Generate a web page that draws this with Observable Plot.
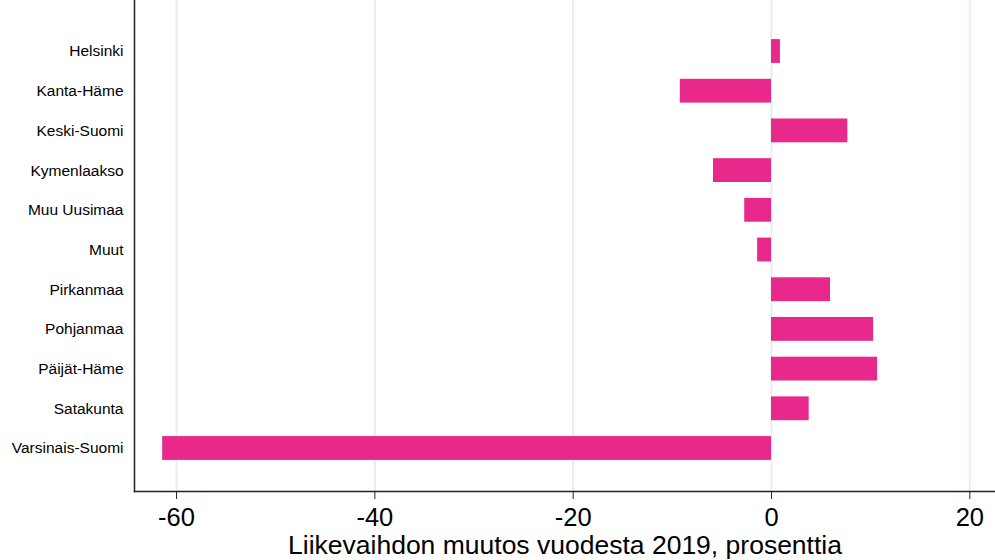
<!DOCTYPE html>
<html><head><meta charset="utf-8">
<script src="https://cdn.jsdelivr.net/npm/d3@7"></script>
<script src="https://cdn.jsdelivr.net/npm/@observablehq/plot@0.6"></script>
<style>body{margin:0;background:#fff} svg{display:block}</style>
</head><body><div id="chart"></div>
<script>
const regions = ["Helsinki","Kanta-Häme","Keski-Suomi","Kymenlaakso","Muu Uusimaa","Muut","Pirkanmaa","Pohjanmaa","Päijät-Häme","Satakunta","Varsinais-Suomi"];
const changes = [0.9,-9.2,7.7,-5.85,-2.7,-1.4,5.95,10.3,10.7,3.8,-61.4];
const xTicks = [-60,-40,-20,0,20];
const xLabel = "Liikevaihdon muutos vuodesta 2019, prosenttia";

const data = regions.map((r,i)=>({region:r, value:changes[i]}));
const xMin = -64.24, xMax = 22.59;

const plot = Plot.plot({
  width:995, height:560, marginLeft:134, marginRight:0, marginTop:0, marginBottom:69,
  style:{fontFamily:"'Liberation Sans', Arial, sans-serif", background:"#fff", color:"#000", overflow:"hidden"},
  x:{domain:[xMin,xMax]},
  y:{domain:regions, range:[39.1,459.9], paddingInner:0.4, paddingOuter:0, round:false},
  marks:[
    Plot.ruleX(xTicks,{stroke:"#e5eef1", strokeWidth:2}),
    Plot.barX(data,{x:"value", y:"region", fill:"#e8298b"}),
    Plot.frame({anchor:"left", stroke:"#222", strokeWidth:1.5}),
    Plot.frame({anchor:"bottom", stroke:"#222", strokeWidth:1.5}),
    Plot.axisY({tickSize:0, tickPadding:11, fontSize:15.5, label:null}),
    Plot.axisX({ticks:xTicks, tickSize:8, tickPadding:8, fontSize:25.5, label:null, stroke:"#222", tickFormat:d=>String(d)}),
    Plot.text([xLabel],{frameAnchor:"bottom", dy:62, lineAnchor:"bottom", fontSize:26.5, fill:"#000"})
  ]
});
document.getElementById("chart").appendChild(plot);
</script>
</body></html>
